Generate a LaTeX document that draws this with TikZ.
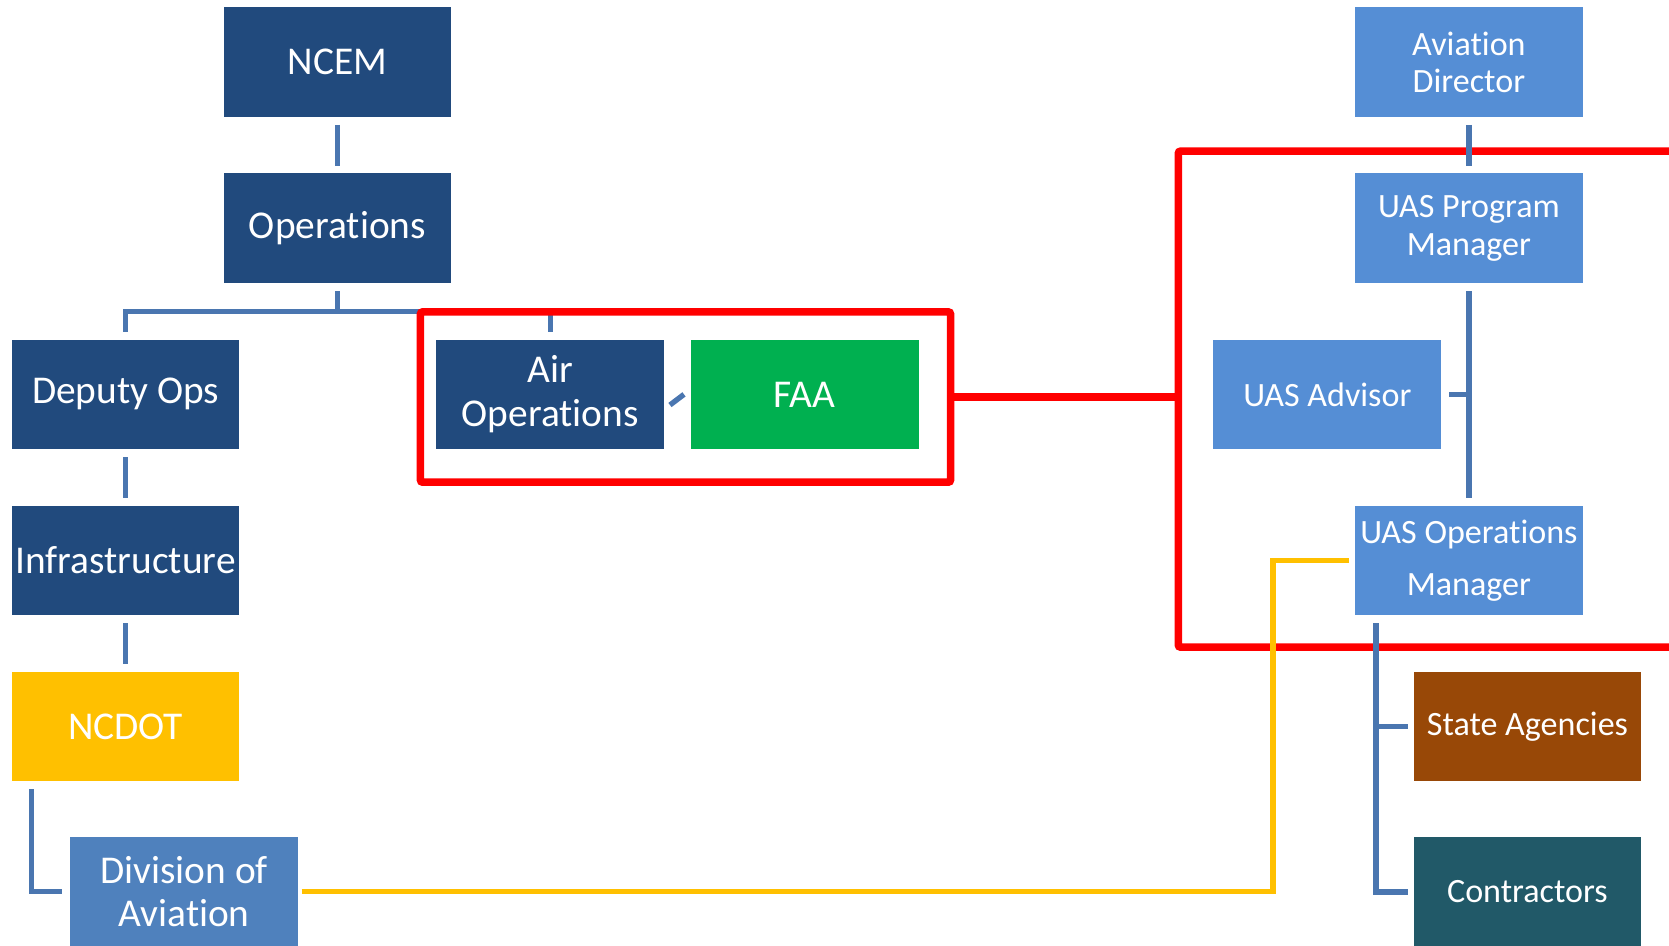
\documentclass[tikz,border=0pt]{standalone}
\usepackage{fontspec}
\setmainfont{Carlito}[Ligatures={NoCommon,NoContextual,NoRare}]
\usetikzlibrary{calc}
\definecolor{darkblue}{RGB}{33,74,125}
\definecolor{connblue}{RGB}{74,118,176}
\definecolor{lightblue}{RGB}{85,142,213}
\definecolor{divblue}{RGB}{79,129,189}
\definecolor{faagreen}{RGB}{0,176,80}
\definecolor{dotyellow}{RGB}{255,192,0}
\definecolor{agbrown}{RGB}{152,72,7}
\definecolor{contteal}{RGB}{33,89,104}
\definecolor{framered}{RGB}{255,0,0}
\tikzset{
  box/.style={rectangle, inner sep=0pt, minimum width=107pt, minimum height=51.5pt,
    text=white, align=center, font=\fontsize{18.5}{20.5}\selectfont},
  rbox/.style={box, fill=lightblue, font=\fontsize{16}{17.5}\selectfont},
  conn/.style={draw=connblue, line width=2.5pt, shorten <=3.5pt, shorten >=3.5pt},
  yline/.style={draw=dotyellow, line width=2.5pt, shorten <=1.5pt, shorten >=2.5pt},
  frame/.style={rectangle, draw=framered, line width=3.5pt, rounded corners=1pt, inner sep=0pt},
  redline/.style={draw=framered, line width=3.5pt}
}
\begin{document}
\begin{tikzpicture}[x=0.5pt, y=-0.5pt]
\clip (0,0) rectangle (1568,888);
\fill[white] (0,0) rectangle (1568,888);
% left column
\node[box, fill=darkblue] (ncem) at (317,58.5) {NCEM};
\node[box, fill=darkblue] (ops) at (317,214.5) {Operations};
\node[box, fill=darkblue] (dep) at (118,370.5) {Deputy Ops};
\node[box, fill=darkblue] (infra) at (118,526.5) {Infrastructure};
\node[box, fill=dotyellow] (ncdot) at (118,682.5) {NCDOT};
\node[box, fill=divblue] (div) at (173,837.5) {Division of\\Aviation};
\node[box, fill=darkblue] (air) at (517,370.5) {Air\\Operations};
\node[box, fill=faagreen] (faa) at (756,370.5) {FAA};
% right column
\node[rbox] (ad) at (1380,58.5) {Aviation\\Director};
\node[rbox] (pm) at (1380,214.5) {UAS Program\\Manager};
\node[rbox] (adv) at (1247,370.5) {UAS Advisor};
\node[rbox, font=\fontsize{16}{24.5}\selectfont] (om) at (1380,526.5) {UAS Operations\\Manager};
\node[box, fill=agbrown, font=\fontsize{16}{17.5}\selectfont] (sa) at (1435,682.5) {State Agencies};
\node[box, fill=contteal, font=\fontsize{16}{17.5}\selectfont] (con) at (1435,838) {Contractors};
% connectors under the frames
\draw[conn] (ops.south) -- ++(0,26) -| (dep.north);
\draw[conn] (ops.south) -- ++(0,26) -| (air.north);
\draw[conn] (ncem) -- (ops);
\draw[conn] (dep) -- (infra);
\draw[conn] (infra) -- (ncdot);
\draw[conn] ($(ncdot.south west)+(19,0)$) |- (div.west);
\draw[draw=connblue, line width=2.5pt] ($(air.east)+(5,10)$) -- ($(faa.west)+(-6,0)$);
% red frames
\node[frame, minimum width=249pt, minimum height=80pt] (frameA) at (644,373) {};
\node[frame, minimum width=250pt, minimum height=233pt] (frameB) at (1357,375) {};
\draw[redline] (frameA.east) -- (frameA.east -| frameB.west);
% right connectors
\draw[conn] (ad) -- (pm);
\draw[conn] (pm) -- (om);
\draw[conn, shorten >=0pt] (adv.east) -- (adv.east -| pm.south);
\draw[conn, shorten >=2.5pt] ($(om.south west)+(20,0)$) |- (sa.west);
\draw[conn, shorten >=2.5pt] ($(om.south west)+(20,0)$) |- (con.west);
% yellow link
\coordinate (ybend) at (1196,700);
\draw[yline] (div.east) -| (ybend |- om.west) -- (om.west);
\end{tikzpicture}
\end{document}
